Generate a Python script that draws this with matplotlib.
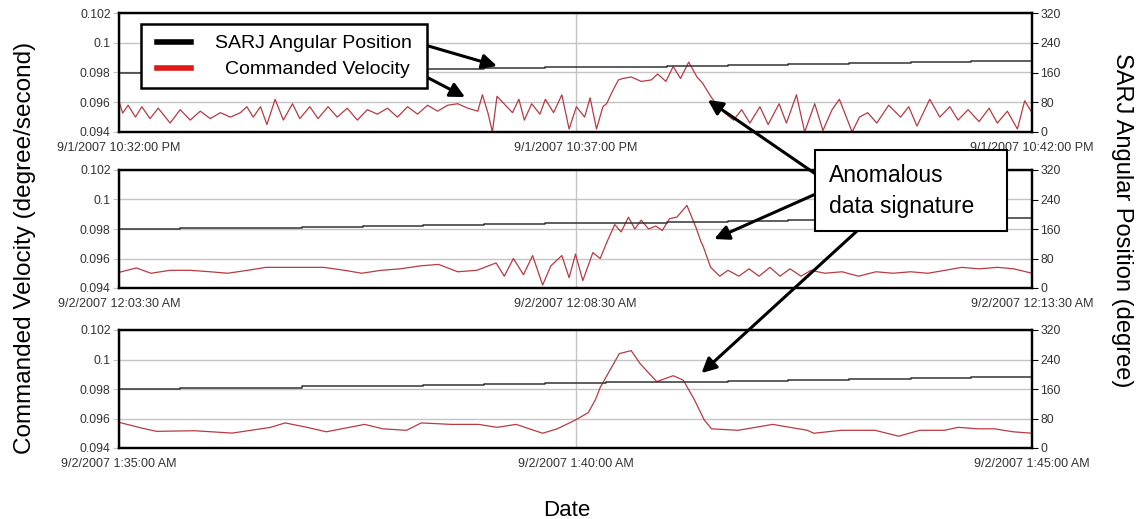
import matplotlib
matplotlib.use("Agg")
import matplotlib.pyplot as plt
from matplotlib.patches import Rectangle, ConnectionPatch
from matplotlib.lines import Line2D

plt.rcParams['font.family'] = ['Liberation Sans', 'DejaVu Sans']

# ---- data (time in minutes from panel start) ----
t1 = [0.00, 0.04, 0.10, 0.18, 0.25, 0.34, 0.43, 0.56, 0.67, 0.78, 0.89, 1.00, 1.11, 1.22,
      1.33, 1.40, 1.47, 1.55, 1.62, 1.71, 1.80, 1.90, 1.98, 2.09, 2.18, 2.29, 2.39, 2.50,
      2.61, 2.72, 2.83, 2.94, 3.05, 3.16, 3.27, 3.38, 3.49, 3.60, 3.71, 3.82, 3.93, 3.98,
      4.04, 4.09, 4.14, 4.31, 4.38, 4.44, 4.52, 4.61, 4.67, 4.76, 4.85, 4.93, 5.01, 5.10,
      5.16, 5.23, 5.30, 5.34, 5.41, 5.47, 5.52, 5.61, 5.72, 5.83, 5.90, 5.99, 6.07, 6.15,
      6.24, 6.33, 6.39, 6.48, 6.55, 6.63, 6.73, 6.82, 6.91, 7.02, 7.11, 7.23, 7.31, 7.42,
      7.51, 7.62, 7.71, 7.81, 7.89, 8.03, 8.11, 8.20, 8.30, 8.43, 8.56, 8.65, 8.74, 8.88,
      8.99, 9.10, 9.19, 9.30, 9.42, 9.53, 9.62, 9.73, 9.84, 9.92, 10.00]
v1 = [.09606, .09527, .0958, .0950, .0957, .0949, .0956, .0946, .0955, .0948, .0954, .0949,
      .0953, .0950, .0953, .0957, .0950, .0957, .0945, .0962, .0948, .0959, .0949, .0957,
      .0949, .0957, .0950, .0956, .0948, .0955, .0952, .0956, .0950, .0957, .0952, .0958,
      .0954, .0958, .0959, .0956, .0954, .0965, .0953, .0940, .0964, .0953, .0962, .0948,
      .0959, .0952, .0962, .0953, .0965, .0942, .0957, .0950, .0963, .0942, .0957, .0959,
      .0968, .0975, .0976, .0977, .0974, .0975, .0979, .0974, .0984, .0976, .0987, .0977,
      .0973, .0964, .0958, .0953, .0948, .0955, .0946, .0957, .0945, .0959, .0946, .0965,
      .0940, .0959, .0941, .0955, .0962, .0940, .0950, .0953, .0946, .0958, .0950, .0957,
      .0944, .0962, .0950, .0957, .0948, .0955, .0947, .0956, .0946, .0954, .0942, .0961,
      .0953]

t2 = [0.00, 0.19, 0.35, 0.56, 0.78, 1.00, 1.19, 1.41, 1.61, 1.95, 2.24, 2.47, 2.66, 2.87,
      3.08, 3.30, 3.50, 3.71, 3.92, 4.13, 4.22, 4.32, 4.43, 4.53, 4.64, 4.73, 4.85, 4.93,
      5.00, 5.08, 5.19, 5.27, 5.35, 5.43, 5.50, 5.58, 5.65, 5.72, 5.80, 5.88, 5.95, 6.03,
      6.11, 6.22, 6.32, 6.37, 6.40, 6.48, 6.58, 6.67, 6.79, 6.90, 7.01, 7.13, 7.24, 7.35,
      7.47, 7.58, 7.73, 7.92, 8.10, 8.29, 8.48, 8.67, 8.86, 9.05, 9.23, 9.42, 9.62, 9.80,
      10.00]
v2 = [.09506, .09536, .0950, .0952, .0952, .0951, .0950, .0952, .0954, .0954, .0954, .0952,
      .0950, .0952, .0953, .0955, .0956, .0951, .0952, .0957, .0948, .0960, .0949, .0962,
      .0942, .0955, .0962, .0947, .0963, .0945, .0964, .0960, .0972, .0983, .0978, .0988,
      .0980, .0986, .0980, .0982, .0979, .0987, .0988, .0996, .0981, .0972, .0968, .0954,
      .0948, .0952, .0948, .0953, .0948, .0954, .0948, .0953, .0948, .0952, .0950, .0951,
      .0948, .0951, .0950, .0951, .0950, .0952, .0954, .0953, .0954, .0953, .0950]

t3 = [0.00, 0.25, 0.41, 0.83, 1.24, 1.66, 1.82, 2.06, 2.27, 2.69, 2.89, 3.15, 3.31, 3.64,
      3.94, 4.14, 4.35, 4.64, 4.80, 5.00, 5.14, 5.22, 5.27, 5.48, 5.61, 5.71, 5.89, 6.07,
      6.18, 6.30, 6.41, 6.49, 6.78, 7.16, 7.54, 7.61, 7.91, 8.28, 8.54, 8.77, 9.04, 9.19,
      9.41, 9.59, 9.79, 10.00]
v3 = [.09574, .09535, .09513, .09517, .09501, .0954, .0957, .0954, .0951, .0956, .0953,
      .0952, .0957, .0956, .0956, .0954, .0956, .0950, .0953, .0959, .0964, .0973, .0981,
      .1004, .1006, .0997, .0985, .0989, .0986, .0973, .0959, .0953, .0952, .0956, .0952,
      .0950, .0952, .0952, .0948, .0952, .0952, .0954, .0953, .0953, .0951, .0950]

# SARJ angular position (degree), stepped
ts = [0, 0.67, 1.33, 2.0, 2.67, 3.33, 4.0, 4.67, 5.33, 6.0, 6.67, 7.33, 8.0, 8.67, 9.33, 10]
a1 = [160, 162, 164, 166, 168, 170, 172, 174, 176, 178, 180, 182, 185, 187, 190, 192]
a2 = [160, 162, 164, 166, 168, 171, 173, 175, 177, 179, 181, 184, 186, 188, 191, 193]
a3 = [160, 162, 164, 167, 169, 171, 173, 176, 178, 180, 183, 185, 187, 190, 192, 195]

date_labels = [
    ["9/1/2007 10:32:00 PM", "9/1/2007 10:37:00 PM", "9/1/2007 10:42:00 PM"],
    ["9/2/2007 12:03:30 AM", "9/2/2007 12:08:30 AM", "9/2/2007 12:13:30 AM"],
    ["9/2/2007 1:35:00 AM", "9/2/2007 1:40:00 AM", "9/2/2007 1:45:00 AM"],
]
vel_ticks = [0.094, 0.096, 0.098, 0.1, 0.102]
vel_labels = ["0.094", "0.096", "0.098", "0.1", "0.102"]
pos_ticks = [0, 80, 160, 240, 320]

W, H = 1139, 519
fig = plt.figure(figsize=(W / 100, H / 100), dpi=100)


def fx(x):
    return x / W


def fy(y):
    return 1 - y / H


RED = '#b83a44'
TXT = '#333333'
panels = [(13, 132), (170, 288), (330, 448)]
series = [(t1, v1, a1), (t2, v2, a2), (t3, v3, a3)]
axes = []

for (top, bot), (tt, vv, aa), labs in zip(panels, series, date_labels):
    ax = fig.add_axes([fx(119), fy(bot), fx(1032) - fx(119), (bot - top) / H])
    ax.plot(tt, vv, color=RED, lw=0.9)
    ax.set_xlim(0, 10)
    ax.set_ylim(0.094, 0.102)
    ax.set_xticks([0, 5, 10])
    ax.set_xticklabels(labs)
    ax.set_yticks(vel_ticks)
    ax.set_yticklabels(vel_labels)
    ax.grid(True, color='#c4c4c4', lw=1.0)
    ax.tick_params(axis='x', length=0, pad=7, labelsize=9, labelcolor=TXT)
    ax.tick_params(axis='y', length=4, color='#c4c4c4', pad=2, labelsize=8.8, labelcolor=TXT)

    ax2 = ax.twinx()
    ax2.plot(ts, aa, drawstyle='steps-post', color='#333333', lw=1.1)
    ax2.set_ylim(0, 320)
    ax2.set_yticks(pos_ticks)
    ax2.tick_params(axis='y', length=4, color='black', pad=2, labelsize=8.8, labelcolor=TXT)
    for a in (ax, ax2):
        for s in a.spines.values():
            s.set_linewidth(1.6)
            s.set_color('black')
    axes.append(ax)

# axis titles
fig.text(fx(25), fy(248), "Commanded Velocity (degree/second)", rotation=90,
         ha='center', va='center', fontsize=17.5)
fig.text(fx(1122), fy(220), "SARJ Angular Position (degree)", rotation=270,
         ha='center', va='center', fontsize=17)
fig.text(fx(567), fy(510), "Date", ha='center', va='center', fontsize=16)

# legend box
fig.add_artist(Rectangle((fx(141), fy(88)), fx(427) - fx(141), (88 - 24) / H,
                         transform=fig.transFigure, facecolor='white',
                         edgecolor='black', lw=1.8, zorder=5))
fig.add_artist(Line2D([fx(157), fx(191)], [fy(42), fy(42)], transform=fig.transFigure,
                      color='black', lw=4, zorder=6))
fig.add_artist(Line2D([fx(157), fx(191)], [fy(68), fy(68)], transform=fig.transFigure,
                      color='#e01818', lw=4, zorder=6))
fig.text(fx(412), fy(43), "SARJ Angular Position", ha='right', va='center',
         fontsize=14, zorder=7)
fig.text(fx(410), fy(69), "Commanded Velocity", ha='right', va='center',
         fontsize=14, zorder=7)

# annotation box
fig.add_artist(Rectangle((fx(815), fy(231)), fx(1007) - fx(815), (231 - 150) / H,
                         transform=fig.transFigure, facecolor='white',
                         edgecolor='black', lw=1.5, zorder=5))
fig.text(fx(829), fy(176), "Anomalous", ha='left', va='center', fontsize=16.5, zorder=7)
fig.text(fx(829), fy(206), "data signature", ha='left', va='center', fontsize=16.5, zorder=7)

# arrows: (start in figure pixels), (tip in data coords of panel)
arrows = [
    ((418, 43), 0, (4.14, 0.09844)),
    ((413, 70), 0, (3.79, 0.09635)),
    ((817, 175), 0, (6.45, 0.09615)),
    ((818, 193), 1, (6.52, 0.09732)),
    ((857, 231), 2, (6.38, 0.09908)),
]
for (sx, sy), k, tip in arrows:
    con = ConnectionPatch(xyA=(fx(sx), fy(sy)), coordsA='figure fraction',
                          xyB=tip, coordsB='data', axesB=axes[k],
                          arrowstyle='-|>', mutation_scale=22, lw=2.2,
                          color='black', shrinkA=0, shrinkB=0, zorder=4)
    fig.add_artist(con)

fig.savefig('out.png', dpi=100, facecolor='white')
